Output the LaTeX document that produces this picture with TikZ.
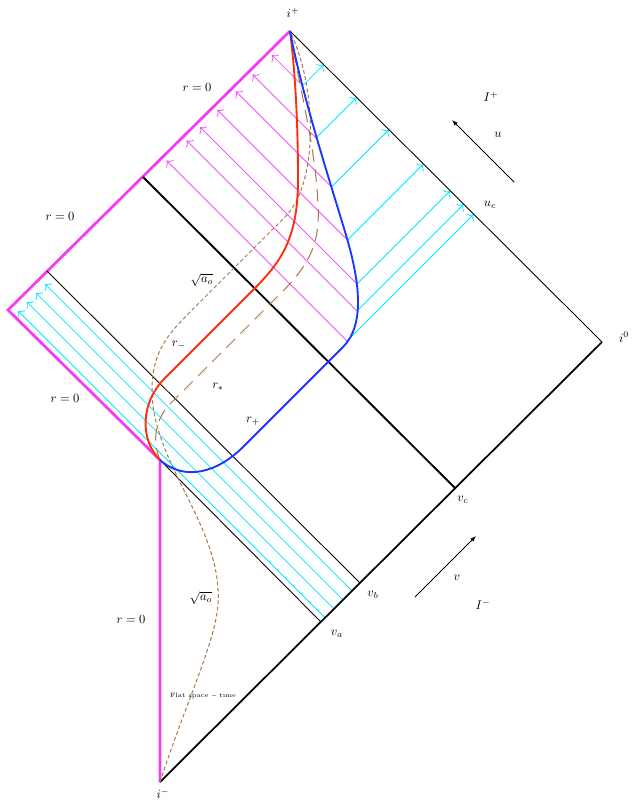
\documentclass[tikz,border=0pt]{standalone}
\usetikzlibrary{arrows.meta}
\definecolor{rzero}{RGB}{245,60,245}
\definecolor{rminus}{RGB}{255,45,10}
\definecolor{rplus}{RGB}{25,55,255}
\definecolor{shell}{RGB}{170,120,70}
\definecolor{ray}{RGB}{0,235,255}
\definecolor{raypink}{RGB}{245,80,245}
\tikzset{
  origin/.style={line width=2.2pt, rzero},
  scri/.style={line width=1.4pt, black},
  scriplus/.style={line width=0.7pt, black},
  shellwall/.style={line width=0.7pt, black},
  horizon/.style={line width=1.5pt, black},
  redcurve/.style={line width=1.5pt, rminus},
  bluecurve/.style={line width=1.5pt, rplus},
  aocurve/.style={shell, line width=0.8pt, dash pattern=on 3pt off 2pt},
  starcurve/.style={shell, line width=0.8pt, dash pattern=on 10pt off 6pt},
  cyanray/.style={ray, line width=0.6pt, -{To[scale=1.4]}},
  magray/.style={raypink, line width=0.6pt, -{To[scale=1.4]}},
  axis/.style={-{Latex[length=1.6mm]}, line width=0.6pt},
  lbl/.style={inner sep=1pt}
}
\begin{document}
\begin{tikzpicture}[x=0.8pt, y=-0.8pt]
  \useasboundingbox (0,0) rectangle (637,802);
  \coordinate (iminus) at (160,782);
  \coordinate (iplus) at (290,31);
  \coordinate (izero) at (602,342);
  \coordinate (kink) at (160,460);
  \coordinate (tip) at (8,310);
  \coordinate (vb0) at (47,271);
  \coordinate (vb) at (360,583);
  \coordinate (vc0) at (143,177);
  \coordinate (vc) at (455,488);
  \coordinate (va) at (321,622);

  % ingoing rays between v_a and v_b
  \foreach \x in {325,334,343,352}
    \draw[cyanray] (\x,{782-(\x-160)*0.9955}) -- ++(-307,-307);

  % rays leaving the r_+ surface
  \foreach \x/\y in {302.6/85.7, 316/138, 331.5/187, 347.5/240, 357/284, 357/311, 347/341}{
    \pgfmathsetmacro\s{(\x+\y-321)/2-3}
    \pgfmathsetmacro\t{(\y-\x+259)/2}
    \draw[magray] (\x,\y) -- ++(-\s,-\s);
    \draw[cyanray] (\x,\y) -- ++(\t,-\t);
  }

  % boundaries
  \draw[origin] (iminus) -- (kink) -- (tip) -- (iplus);
  \draw[scri] (iminus) -- (izero);
  \draw[scriplus] (izero) -- (iplus);
  \draw[horizon] (vc0) -- (vc);
  \draw[shellwall] (vb0) -- (vb);
  \draw[shellwall] (kink) -- (va);

  % curves
  \draw[aocurve] (iminus) .. controls (190,690) and (222,630) .. (218,590)
    .. controls (215,520) and (152,460) .. (152,390)
    .. controls (152,350) and (170,333) .. (188,314) -- (285,217)
    .. controls (318,184) and (318,90) .. (iplus);
  \draw[starcurve] (kink) .. controls (152,440) and (155,420) .. (170,404) -- (282,292)
    .. controls (312,262) and (320,240) .. (318,205)
    .. controls (316,150) and (300,90) .. (iplus);
  \draw[redcurve] (iplus) .. controls (295,70) and (298,120) .. (298,180)
    .. controls (298,240) and (280,263) .. (253,290) -- (165,378)
    .. controls (140,403) and (140,440) .. (kink);
  \draw[bluecurve] (iplus) .. controls (302,95) and (328,175) .. (346,235)
    .. controls (360,282) and (365,325) .. (343,347) -- (243,447)
    .. controls (218,472) and (185,482) .. (kink);

  % u and v
  \coordinate (u0) at (514,182);
  \coordinate (u1) at (452,120);
  \coordinate (v0) at (415,597);
  \coordinate (v1) at (476,536);
  \draw[axis] (u0) -- (u1);
  \draw[axis] (v0) -- (v1);

  % labels
  \node[lbl] (lip) at (293,13) {$i^+$};
  \node[lbl] (lim) at (163,794) {$i^-$};
  \node[lbl] (liz) at (624,337) {$i^0$};
  \node[lbl] (lIp) at (491,97) {$I^+$};
  \node[lbl] (lIm) at (483,605) {$I^-$};
  \node[lbl] (lu) at (498,135) {$u$};
  \node[lbl] (lv) at (457,578) {$v$};
  \node[lbl] (luc) at (490,205) {$u_c$};
  \node[lbl] (lvc) at (463,500) {$v_c$};
  \node[lbl] (lvb) at (373,595) {$v_b$};
  \node[lbl] (lva) at (337,634) {$v_a$};
  \node[lbl] (rz1) at (197,87) {$r=0$};
  \node[lbl] (rz2) at (60,216) {$r=0$};
  \node[lbl] (rz3) at (65,398) {$r=0$};
  \node[lbl] (rz4) at (131,619) {$r=0$};
  \node[lbl] (ao1) at (202,280) {$\sqrt{a_o}$};
  \node[lbl] (ao2) at (201,598) {$\sqrt{a_o}$};
  \node[lbl] (lrm) at (179,345) {$r_-$};
  \node[lbl] (lrs) at (218,387) {$r_*$};
  \node[lbl] (lrp) at (253,421) {$r_+$};
  \node[lbl, font=\tiny] (flat) at (203,696) {$\mathrm{Flat\ space-time}$};
\end{tikzpicture}
\end{document}
